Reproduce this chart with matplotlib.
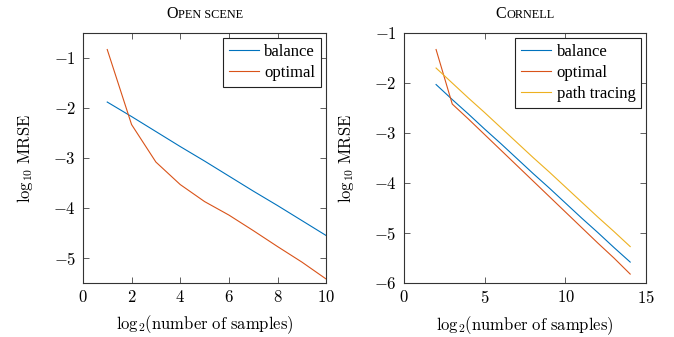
import matplotlib
matplotlib.use('Agg')
import matplotlib.pyplot as plt
from matplotlib.offsetbox import TextArea, HPacker, AnchoredOffsetbox

plt.rcParams['font.family'] = ['Liberation Serif', 'DejaVu Serif']
plt.rcParams['mathtext.fontset'] = 'cm'

# open scene
x_open = [1, 2, 3, 4, 5, 6, 7, 8, 9, 10]
bal_open = [-1.88, -2.17, -2.47, -2.77, -3.06, -3.36, -3.66, -3.95, -4.25, -4.55]
opt_open = [-0.83, -2.33, -3.08, -3.53, -3.87, -4.14, -4.45, -4.77, -5.08, -5.42]

# cornell
x_corn = [2, 3, 4, 5, 6, 7, 8, 9, 10, 11, 12, 13, 14]
bal_corn = [-2.03, -2.33, -2.62, -2.92, -3.21, -3.51, -3.81, -4.10, -4.40, -4.70, -4.99, -5.29, -5.58]
opt_corn = [-1.33, -2.42, -2.72, -3.03, -3.34, -3.65, -3.96, -4.27, -4.58, -4.89, -5.20, -5.50, -5.82]
pt_corn = [-1.70, -2.00, -2.30, -2.59, -2.89, -3.19, -3.49, -3.78, -4.08, -4.38, -4.68, -4.97, -5.27]

c_bal = '#0072BD'
c_opt = '#D95319'
c_pt = '#EDB120'

fig = plt.figure(figsize=(6.74, 3.37), dpi=100)
ax1 = fig.add_axes([0.123, 0.160, 0.361, 0.742])
ax2 = fig.add_axes([0.599, 0.160, 0.360, 0.742])


def smallcaps(ax, big, small):
    parts = [TextArea(big, textprops=dict(size=11.5)),
             TextArea(small, textprops=dict(size=8.8))]
    box = HPacker(children=parts, align='baseline', pad=0, sep=0.5)
    ab = AnchoredOffsetbox(loc='lower center', child=box, frameon=False,
                           bbox_to_anchor=(0.5, 1.045), bbox_transform=ax.transAxes,
                           borderpad=0, pad=0)
    ax.add_artist(ab)


def style(ax):
    ax.tick_params(direction='in', top=True, right=True, length=4, width=0.6,
                   labelsize=12, color='#444444', pad=5)
    for s in ax.spines.values():
        s.set_linewidth(0.8)
        s.set_color('#333333')
    ax.set_xlabel(r'$\mathrm{log}_2(\mathrm{number\ of\ samples})$', fontsize=12, labelpad=5)
    ax.set_ylabel(r'$\mathrm{log}_{10}\ \mathrm{MRSE}$', fontsize=12, labelpad=13)
    leg = ax.legend(loc='upper right', fancybox=False, edgecolor='#222222',
                    fontsize=12, borderaxespad=0.3, handlelength=1.8,
                    handletextpad=0.35, labelspacing=0.3, borderpad=0.35, framealpha=1)
    leg.get_frame().set_linewidth(0.8)


ax1.plot(x_open, bal_open, color=c_bal, lw=0.8, label='balance')
ax1.plot(x_open, opt_open, color=c_opt, lw=0.8, label='optimal')
ax1.set_xlim(0, 10)
ax1.set_ylim(-5.5, -0.5)
ax1.set_xticks([0, 2, 4, 6, 8, 10])
ax1.set_yticks([-5, -4, -3, -2, -1])
ax1.set_xticklabels(['$%d$' % v for v in [0, 2, 4, 6, 8, 10]])
ax1.set_yticklabels(['$%d$' % v for v in [-5, -4, -3, -2, -1]])
style(ax1)
smallcaps(ax1, 'O', 'PEN SCENE')

ax2.plot(x_corn, bal_corn, color=c_bal, lw=0.8, label='balance')
ax2.plot(x_corn, opt_corn, color=c_opt, lw=0.8, label='optimal')
ax2.plot(x_corn, pt_corn, color=c_pt, lw=0.8, label='path tracing')
ax2.set_xlim(0, 15)
ax2.set_ylim(-6, -1)
ax2.set_xticks([0, 5, 10, 15])
ax2.set_yticks([-6, -5, -4, -3, -2, -1])
ax2.set_xticklabels(['$%d$' % v for v in [0, 5, 10, 15]])
ax2.set_yticklabels(['$%d$' % v for v in [-6, -5, -4, -3, -2, -1]])
style(ax2)
smallcaps(ax2, 'C', 'ORNELL')

fig.savefig('out.png', dpi=100)
